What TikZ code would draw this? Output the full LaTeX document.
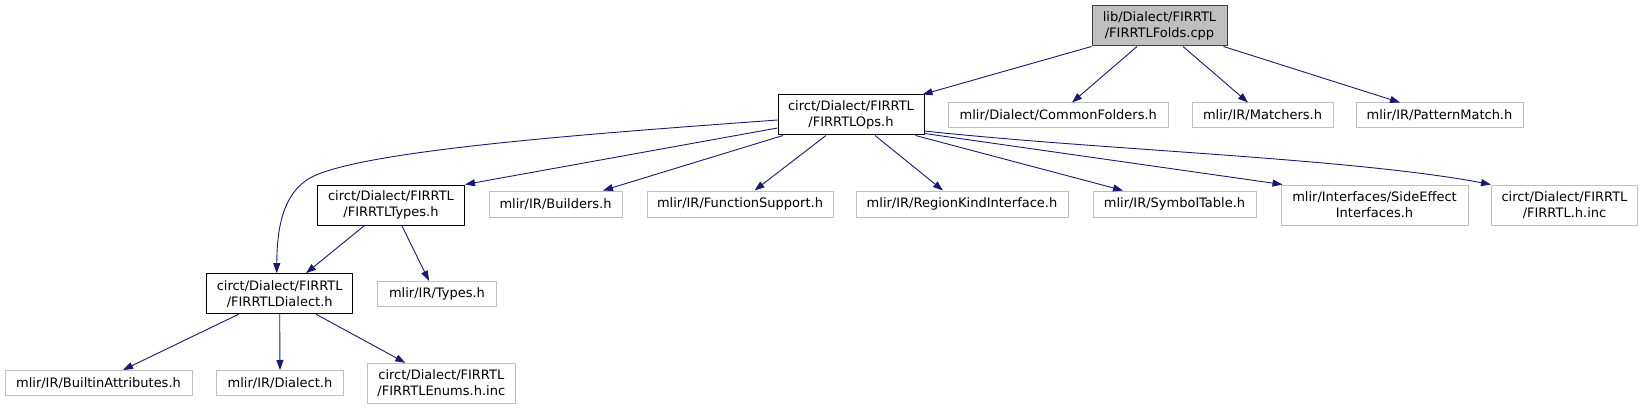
\documentclass[tikz,border=0pt]{standalone}
\usepackage{fontspec}
\setmainfont{DejaVu Sans}
\usetikzlibrary{arrows.meta,calc}
\definecolor{edgeblue}{RGB}{25,25,112}
\definecolor{lightframe}{RGB}{191,191,191}
\definecolor{rootfill}{RGB}{191,191,191}
\definecolor{rootframe}{RGB}{64,64,64}
\tikzset{
  base/.style={rectangle, inner sep=0pt, align=center, font=\fontsize{13}{16}\selectfont, fill=white},
  rootbox/.style={base, draw=rootframe, fill=rootfill, line width=1pt},
  darkbox/.style={base, draw=black, line width=1pt},
  lightbox/.style={base, draw=lightframe, line width=1pt},
  dep/.style={draw=edgeblue, line width=0.9pt, -{Triangle[length=10pt,width=7pt,fill=edgeblue]}},
}
\begin{document}
\begin{tikzpicture}[x=1pt,y=-1pt]
\useasboundingbox (0,0) rectangle (1644,409);
% nodes
\node[rootbox, minimum width=135pt, minimum height=40pt] (top) at (1159.5,26) {lib/Dialect/FIRRTL\\/FIRRTLFolds.cpp};
\node[darkbox, minimum width=146pt, minimum height=40pt] (ops) at (851,115) {circt/Dialect/FIRRTL\\/FIRRTLOps.h};
\node[lightbox, minimum width=220pt, minimum height=25pt] (common) at (1058.3,115.5) {mlir/Dialect/CommonFolders.h};
\node[lightbox, minimum width=141pt, minimum height=25pt] (matchers) at (1262.5,115.5) {mlir/IR/Matchers.h};
\node[lightbox, minimum width=167pt, minimum height=25pt] (pattern) at (1439.5,115.5) {mlir/IR/PatternMatch.h};
\node[darkbox, minimum width=147pt, minimum height=40pt] (types) at (391,205) {circt/Dialect/FIRRTL\\/FIRRTLTypes.h};
\node[lightbox, minimum width=133pt, minimum height=26pt] (builders) at (555.5,204) {mlir/IR/Builders.h};
\node[lightbox, minimum width=186pt, minimum height=26pt] (funcs) at (740,204) {mlir/IR/FunctionSupport.h};
\node[lightbox, minimum width=212pt, minimum height=26pt] (region) at (962,204) {mlir/IR/RegionKindInterface.h};
\node[lightbox, minimum width=163pt, minimum height=26pt] (symbol) at (1174.5,204) {mlir/IR/SymbolTable.h};
\node[lightbox, minimum width=187pt, minimum height=40pt] (side) at (1374.5,205) {mlir/Interfaces/SideEffect\\Interfaces.h};
\node[lightbox, minimum width=146pt, minimum height=40pt] (inc) at (1564.5,205) {circt/Dialect/FIRRTL\\/FIRRTL.h.inc};
\node[darkbox, minimum width=146pt, minimum height=40pt] (dialect) at (279.7,293.7) {circt/Dialect/FIRRTL\\/FIRRTLDialect.h};
\node[lightbox, minimum width=119pt, minimum height=25pt] (typesh) at (437,293.8) {mlir/IR/Types.h};
\node[lightbox, minimum width=187pt, minimum height=25pt] (builtin) at (98.5,383) {mlir/IR/BuiltinAttributes.h};
\node[lightbox, minimum width=127pt, minimum height=25pt] (dialecth) at (280,383) {mlir/IR/Dialect.h};
\node[lightbox, minimum width=148pt, minimum height=40pt] (enums) at (441.3,383.3) {circt/Dialect/FIRRTL\\/FIRRTLEnums.h.inc};
% edges from root
\draw[dep] (top.south west) -- ($(ops.north east)+(-2,0)$);
\draw[dep] ($(top.south)+(-22.5,0)$) -- ($(common.north)+(13.7,0)$);
\draw[dep] ($(top.south)+(23.5,0)$) -- ($(matchers.north)+(-14.5,0)$);
\draw[dep] ($(top.south east)+(-4,0)$) -- ($(pattern.north)+(-39.5,0)$);
% edges from ops
\draw[dep] ($(ops.west)+(0,5)$) .. controls (600,133) and (360,150) .. (310,178)
  .. controls (282,194) and (277,230) .. ($(dialect.north)+(-3,0)$);
\draw[dep] ($(ops.west)+(0,13)$) -- (types.north east);
\draw[dep] ($(ops.south west)+(5.5,0)$) -- ($(builders.north)+(47.5,0)$);
\draw[dep] ($(ops.south)+(-25,0)$) -- ($(funcs.north)+(14.5,0)$);
\draw[dep] ($(ops.south)+(24,0)$) -- ($(region.north)+(-19,0)$);
\draw[dep] ($(ops.south east)+(-9,0)$) -- ($(symbol.north)+(-51.5,0)$);
\draw[dep] ($(ops.south east)+(0,-2)$) -- ($(side.north west)+(2,0)$);
\draw[dep] ($(ops.east)+(0,16)$) .. controls (1100,150) and (1350,158) .. (inc.north west);
% edges from types
\draw[dep] ($(types.south)+(-26.5,0)$) -- ($(dialect.north)+(26.3,0)$);
\draw[dep] ($(types.south)+(10.7,0)$) -- ($(typesh.north)+(-8,0)$);
% edges from dialect
\draw[dep] ($(dialect.south)+(-41,0)$) -- ($(builtin.north)+(24.5,0)$);
\draw[dep] (dialect.south) -- (dialecth.north);
\draw[dep] ($(dialect.south)+(36.3,0)$) -- ($(enums.north)+(-36,0)$);
\end{tikzpicture}
\end{document}
